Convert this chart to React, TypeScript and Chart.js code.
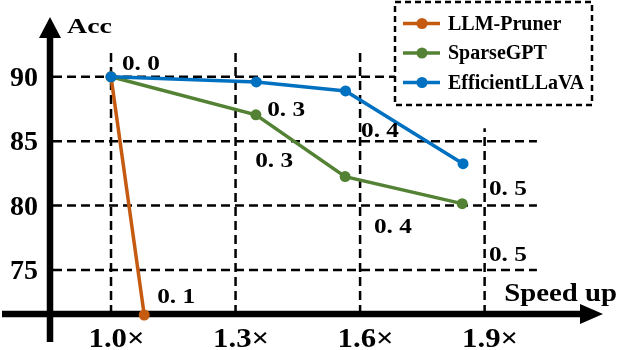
import React, { useEffect, useRef } from "react";
import { Chart, registerables } from "chart.js";

Chart.register(...registerables);

const speedTicks = [1.0, 1.3, 1.6, 1.9];
const speedTickLabels = ["1.0×", "1.3×", "1.6×", "1.9×"];
const accTicks = [75, 80, 85, 90];

const seriesNames = ["LLM-Pruner", "SparseGPT", "EfficientLLaVA"];
const seriesColors = ["#C55A11", "#548235", "#0070C0"];

const llmPrunerX = [1.0, 1.08];
const llmPrunerY = [90, 71.5];
const sparseGptX = [1.0, 1.349, 1.564, 1.846];
const sparseGptY = [90, 87.05, 82.25, 80.15];
const efficientX = [1.0, 1.35, 1.565, 1.848];
const efficientY = [90, 89.6, 88.9, 83.25];

const noteText = ["0. 0", "0. 3", "0. 3", "0. 4", "0. 4", "0. 5", "0. 5", "0. 1"];
const noteX = [1.072, 1.422, 1.393, 1.648, 1.679, 1.956, 1.956, 1.157];
const noteY = [91.1, 87.5, 83.55, 85.9, 78.45, 81.4, 76.3, 73.05];

const X_MIN = 0.853;
const X_MAX = 2.19;
const Y_MIN = 71.5;
const Y_MAX = 94.8;
const GRID_TOP = 92.07;
const GRID_TOP_LAST = 86.0;
const GRID_RIGHT = 2.026;

const FONT = '"Liberation Serif", "Times New Roman", serif';

const toPts = (xs: number[], ys: number[]) => xs.map((x, i) => ({ x, y: ys[i] }));

function stretchText(ctx: any, text: string, x: number, y: number, sx: number) {
  ctx.save();
  ctx.translate(x, y);
  ctx.scale(sx, 1);
  ctx.fillText(text, 0, 0);
  ctx.restore();
}

const decorPlugin = {
  id: "decor",
  beforeDatasetsDraw(chart: any) {
    const { ctx, scales } = chart;
    const xs = scales.x;
    const ys = scales.y;
    const x0 = xs.getPixelForValue(X_MIN);
    const y0 = ys.getPixelForValue(Y_MIN) - 1;
    ctx.save();
    // gridlines
    ctx.strokeStyle = "#000";
    ctx.lineWidth = 2.5;
    ctx.setLineDash([9, 5]);
    accTicks.forEach((v) => {
      const py = ys.getPixelForValue(v);
      ctx.beginPath();
      ctx.moveTo(x0 + 3, py);
      ctx.lineTo(xs.getPixelForValue(GRID_RIGHT), py);
      ctx.stroke();
    });
    speedTicks.forEach((v, i) => {
      const px = xs.getPixelForValue(v);
      const top = i === speedTicks.length - 1 ? GRID_TOP_LAST : GRID_TOP;
      ctx.beginPath();
      ctx.moveTo(px, y0);
      ctx.lineTo(px, ys.getPixelForValue(top));
      ctx.stroke();
    });
    ctx.setLineDash([]);
    // axes
    ctx.fillStyle = "#000";
    ctx.lineWidth = 6.5;
    const top = ys.getPixelForValue(Y_MAX);
    const right = xs.getPixelForValue(X_MAX);
    ctx.beginPath();
    ctx.moveTo(x0, y0 + 28);
    ctx.lineTo(x0, top + 20);
    ctx.stroke();
    ctx.beginPath();
    ctx.moveTo(x0, top + 2);
    ctx.lineTo(x0 - 11, top + 23);
    ctx.lineTo(x0 + 11, top + 23);
    ctx.closePath();
    ctx.fill();
    ctx.beginPath();
    ctx.moveTo(2, y0);
    ctx.lineTo(right - 20, y0);
    ctx.stroke();
    ctx.beginPath();
    ctx.moveTo(right - 2, y0);
    ctx.lineTo(right - 25, y0 - 10);
    ctx.lineTo(right - 25, y0 + 10);
    ctx.closePath();
    ctx.fill();
    // tick labels
    ctx.font = `bold 28px ${FONT}`;
    ctx.textAlign = "right";
    ctx.textBaseline = "alphabetic";
    accTicks.forEach((v) => {
      ctx.fillText(String(v), x0 - 12, ys.getPixelForValue(v) + 9);
    });
    ctx.font = `bold 28px ${FONT}`;
    ctx.textAlign = "center";
    speedTicks.forEach((v, i) => {
      stretchText(ctx, speedTickLabels[i], xs.getPixelForValue(v) + 5.5, y0 + 33, 1.1);
    });
    // axis titles
    ctx.font = `bold 22px ${FONT}`;
    ctx.textAlign = "left";
    stretchText(ctx, "Acc", x0 + 17, top + 18, 1.27);
    ctx.font = `bold 25px ${FONT}`;
    ctx.textAlign = "right";
    stretchText(ctx, "Speed up", right + 12, y0 - 13, 1.15);
    ctx.restore();
  },
  afterDatasetsDraw(chart: any) {
    const { ctx, scales } = chart;
    const xs = scales.x;
    const ys = scales.y;
    ctx.save();
    // annotations
    ctx.fillStyle = "#000";
    ctx.font = `bold 22px ${FONT}`;
    ctx.textAlign = "center";
    ctx.textBaseline = "alphabetic";
    noteText.forEach((t, i) => {
      stretchText(ctx, t, xs.getPixelForValue(noteX[i]), ys.getPixelForValue(noteY[i]) + 7.5, 1.15);
    });
    // legend
    const lx = 395;
    const ly = 2;
    const lw = 197;
    const lh = 103;
    ctx.fillStyle = "#fff";
    ctx.fillRect(lx, ly, lw, lh);
    ctx.strokeStyle = "#000";
    ctx.lineWidth = 2.5;
    ctx.setLineDash([6, 4]);
    ctx.strokeRect(lx, ly, lw, lh);
    ctx.setLineDash([]);
    ctx.font = `bold 20px ${FONT}`;
    ctx.textAlign = "left";
    ctx.textBaseline = "middle";
    seriesNames.forEach((name, i) => {
      const cy = ly + 21.5 + i * 29.5;
      ctx.strokeStyle = seriesColors[i];
      ctx.lineWidth = 3.5;
      ctx.beginPath();
      ctx.moveTo(lx + 8, cy);
      ctx.lineTo(lx + 45, cy);
      ctx.stroke();
      ctx.fillStyle = seriesColors[i];
      ctx.beginPath();
      ctx.arc(lx + 27, cy, 5.5, 0, Math.PI * 2);
      ctx.fill();
      ctx.fillStyle = "#000";
      ctx.fillText(name, lx + 53, cy + 1);
    });
    ctx.restore();
  },
};

export default function App() {
  const ref = useRef<HTMLCanvasElement>(null);
  useEffect(() => {
    if (!ref.current) return;
    const mk = (i: number, xs: number[], ys: number[]) => ({
      label: seriesNames[i],
      data: toPts(xs, ys),
      borderColor: seriesColors[i],
      backgroundColor: seriesColors[i],
      borderWidth: 3.5,
      pointRadius: 5.5,
      pointBorderWidth: 0,
      pointHoverRadius: 5.5,
      showLine: true,
      clip: false as any,
    });
    const chart = new Chart(ref.current, {
      type: "scatter",
      data: {
        datasets: [
          mk(2, efficientX, efficientY),
          mk(1, sparseGptX, sparseGptY),
          mk(0, llmPrunerX, llmPrunerY),
        ],
      },
      options: {
        animation: false,
        responsive: false,
        layout: { padding: { left: 50, right: 15, top: 15, bottom: 35 } },
        plugins: { legend: { display: false }, tooltip: { enabled: false } },
        scales: {
          x: { type: "linear", min: X_MIN, max: X_MAX, display: false },
          y: { type: "linear", min: Y_MIN, max: Y_MAX, display: false },
        },
      },
      plugins: [decorPlugin],
    });
    return () => chart.destroy();
  }, []);
  return (
    <div style={{ position: "absolute", left: 0, top: 0, width: 620, height: 350, background: "#fff" }}>
      <canvas ref={ref} width={620} height={350} />
    </div>
  );
}
